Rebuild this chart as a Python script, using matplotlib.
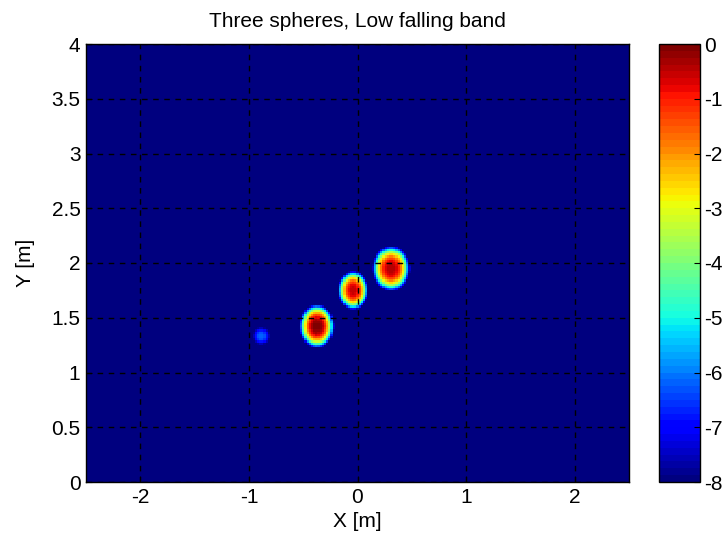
import numpy as np
import matplotlib
matplotlib.use('Agg')
import matplotlib.pyplot as plt
from matplotlib.colors import ListedColormap

plt.rcParams['font.family'] = ['Liberation Sans', 'DejaVu Sans']
plt.rcParams['axes.unicode_minus'] = False

# blob parameters (centre, half sizes, peak level)
blob_x = [-0.375, -0.04, 0.31, -0.89]
blob_y = [1.42, 1.75, 1.95, 1.33]
blob_wx = [0.16, 0.14, 0.175, 0.08]
blob_wy = [0.2, 0.18, 0.21, 0.08]
blob_peak = [0.0, -0.5, -0.4, -6.2]

x_ticks = [-2, -1, 0, 1, 2]
y_ticks = [0, 0.5, 1, 1.5, 2, 2.5, 3, 3.5, 4]
cbar_ticks = [0, -1, -2, -3, -4, -5, -6, -7, -8]

# image grid
xs = np.arange(-2.5, 2.5001, 0.02)
ys = np.arange(0, 4.0001, 0.02)
X, Y = np.meshgrid(xs, ys)
Z = np.full(X.shape, -8.0)
for cx, cy, wx, wy, pk in zip(blob_x, blob_y, blob_wx, blob_wy, blob_peak):
    d = np.sqrt(((X - cx) / wx) ** 2 + ((Y - cy) / wy) ** 2)
    Z = np.maximum(Z, pk - (pk + 8) * d ** 2.6)
Z = np.clip(Z, -8, 0)

cmap = ListedColormap(plt.get_cmap('jet')(np.linspace(0, 1, 64)))

fig = plt.figure(figsize=(7.28, 5.45), dpi=100)
ax = fig.add_axes([86/728, 63/545, 543/728, 438/545])
im = ax.imshow(Z, origin='lower', extent=[-2.5, 2.5, 0, 4], aspect='auto',
               cmap=cmap, vmin=-8, vmax=0, interpolation='nearest')
ax.set_xlim(-2.5, 2.5)
ax.set_ylim(0, 4)
ax.set_xticks(x_ticks)
ax.set_yticks(y_ticks)
ax.set_yticklabels(['0', '0.5', '1', '1.5', '2', '2.5', '3', '3.5', '4'])
ax.grid(True, color='black', linestyle=(0, (4, 4)), linewidth=1.0)
ax.tick_params(labelsize=15, direction='in', length=4, pad=4)
ax.set_xlabel('X [m]', fontsize=15, labelpad=4)
ax.set_ylabel('Y [m]', fontsize=15, labelpad=12)
ax.set_title('Three spheres, Low falling band', fontsize=15, pad=12)
for s in ax.spines.values():
    s.set_linewidth(1.0)

cax = fig.add_axes([659/728, 63/545, 41/728, 438/545])
cb = fig.colorbar(im, cax=cax, ticks=cbar_ticks)
cb.ax.tick_params(labelsize=15, direction='in', length=4, pad=3)
cb.outline.set_linewidth(1.0)

plt.savefig('out.png', dpi=100)
